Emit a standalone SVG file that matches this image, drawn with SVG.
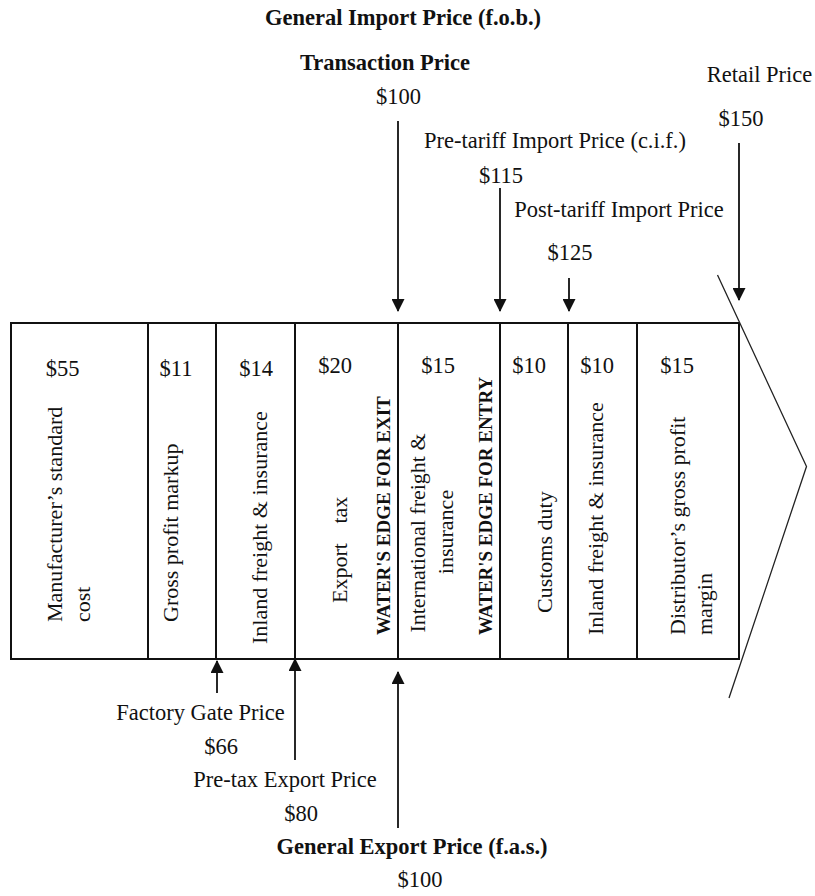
<svg xmlns="http://www.w3.org/2000/svg" width="815" height="896" viewBox="0 0 815 896">
<style>
  .bg { fill: #ffffff; }
  .cell { fill: #ffffff; stroke: #111111; stroke-width: 2; }
  .t { font-family: "Liberation Serif", "Times New Roman", serif; font-size: 22.5px; fill: #111111; }
  .tb { font-family: "Liberation Serif", "Times New Roman", serif; font-size: 22.5px; font-weight: bold; fill: #111111; }
  .m { text-anchor: middle; }
  .v { font-family: "Liberation Serif", "Times New Roman", serif; font-size: 22px; fill: #111111; }
  .vb { font-family: "Liberation Serif", "Times New Roman", serif; font-size: 19px; font-weight: bold; fill: #111111; }
  .amt { font-family: "Liberation Serif", "Times New Roman", serif; font-size: 22.5px; fill: #111111; text-anchor: middle; }
  .conn { stroke: #111111; stroke-width: 1.8; fill: none; marker-end: url(#arrow); }
  .chev { stroke: #222222; stroke-width: 1.3; fill: none; }
</style>
<defs>
  <marker id="arrow" markerUnits="userSpaceOnUse" markerWidth="13" markerHeight="13" viewBox="0 0 13 13" refX="12" refY="6.5" orient="auto">
    <path d="M0,0 L13,6.5 L0,13 Z" fill="#111111"/>
  </marker>
</defs>
<rect class="bg" x="0" y="0" width="815" height="896"/>

<!-- Cells of the value chain -->
<g id="cell-manufacturer-cost">
  <rect class="cell" x="11" y="323" width="137" height="336"/>
  <text class="amt" x="62.5" y="376">$55</text>
  <text class="v" transform="translate(62,622) rotate(-90)">Manufacturer’s standard</text>
  <text class="v" transform="translate(90,622) rotate(-90)">cost</text>
</g>
<g id="cell-gross-profit-markup">
  <rect class="cell" x="148" y="323" width="68" height="336"/>
  <text class="amt" x="176" y="376">$11</text>
  <text class="v" transform="translate(178,622) rotate(-90)">Gross profit markup</text>
</g>
<g id="cell-inland-freight-export">
  <rect class="cell" x="216" y="323" width="79" height="336"/>
  <text class="amt" x="256" y="376">$14</text>
  <text class="v" transform="translate(267,644) rotate(-90)">Inland freight &amp; insurance</text>
</g>
<g id="cell-export-tax">
  <rect class="cell" x="295" y="323" width="103" height="336"/>
  <text class="amt" x="335" y="372.5">$20</text>
  <text class="v" transform="translate(347,603) rotate(-90)" word-spacing="14">Export tax</text>
  <text class="vb" transform="translate(390,635) rotate(-90)">WATER'S EDGE FOR EXIT</text>
</g>
<g id="cell-international-freight">
  <rect class="cell" x="398" y="323" width="102" height="336"/>
  <text class="amt" x="438" y="372.5">$15</text>
  <text class="v m" transform="translate(425,533) rotate(-90)">International freight &amp;</text>
  <text class="v m" transform="translate(453,532) rotate(-90)">insurance</text>
  <text class="vb" transform="translate(491.5,635) rotate(-90)">WATER'S EDGE FOR ENTRY</text>
</g>
<g id="cell-customs-duty">
  <rect class="cell" x="500" y="323" width="68" height="336"/>
  <text class="amt" x="529" y="372.5">$10</text>
  <text class="v" transform="translate(552,613) rotate(-90)">Customs duty</text>
</g>
<g id="cell-inland-freight-import">
  <rect class="cell" x="568" y="323" width="69" height="336"/>
  <text class="amt" x="597" y="372.5">$10</text>
  <text class="v" transform="translate(603,635) rotate(-90)">Inland freight &amp; insurance</text>
</g>
<g id="cell-distributor-margin">
  <rect class="cell" x="637" y="323" width="102" height="336"/>
  <text class="amt" x="677" y="372.5">$15</text>
  <text class="v" transform="translate(685,635) rotate(-90)">Distributor’s gross profit</text>
  <text class="v" transform="translate(712,635) rotate(-90)">margin</text>
</g>
<g id="chevron">
  <polyline class="chev" points="717.5,275 806.5,466.5 729,698"/>
</g>

<!-- Price labels -->
<g id="general-import-price">
  <text class="tb m" x="403" y="25">General Import Price (f.o.b.)</text>
</g>
<g id="transaction-price">
  <text class="tb m" x="385" y="70">Transaction Price</text>
  <text class="t m" x="398.5" y="104">$100</text>
</g>
<g id="retail-price">
  <text class="t m" x="759.5" y="81.5">Retail Price</text>
  <text class="t m" x="741" y="126">$150</text>
</g>
<g id="pre-tariff-import-price">
  <text class="t m" x="555" y="148">Pre-tariff Import Price (c.i.f.)</text>
  <text class="t m" x="501" y="182.5">$115</text>
</g>
<g id="post-tariff-import-price">
  <text class="t m" x="619" y="216.5">Post-tariff Import Price</text>
  <text class="t m" x="570" y="260">$125</text>
</g>
<g id="factory-gate-price">
  <text class="t m" x="200.5" y="720">Factory Gate Price</text>
  <text class="t m" x="221" y="754">$66</text>
</g>
<g id="pre-tax-export-price">
  <text class="t m" x="285" y="787">Pre-tax Export Price</text>
  <text class="t m" x="301" y="821">$80</text>
</g>
<g id="general-export-price">
  <text class="tb m" x="412" y="854">General Export Price (f.a.s.)</text>
  <text class="t m" x="420" y="887">$100</text>
</g>

<!-- Connectors -->
<g id="connectors">
  <line class="conn" x1="398" y1="121" x2="398" y2="311"/>
  <line class="conn" x1="500" y1="188" x2="500" y2="311"/>
  <line class="conn" x1="569" y1="278" x2="569" y2="311"/>
  <line class="conn" x1="739" y1="143" x2="739" y2="300"/>
  <line class="conn" x1="217" y1="693" x2="217" y2="661"/>
  <line class="conn" x1="295" y1="760" x2="295" y2="659"/>
  <line class="conn" x1="398" y1="828" x2="398" y2="672"/>
</g>
</svg>
